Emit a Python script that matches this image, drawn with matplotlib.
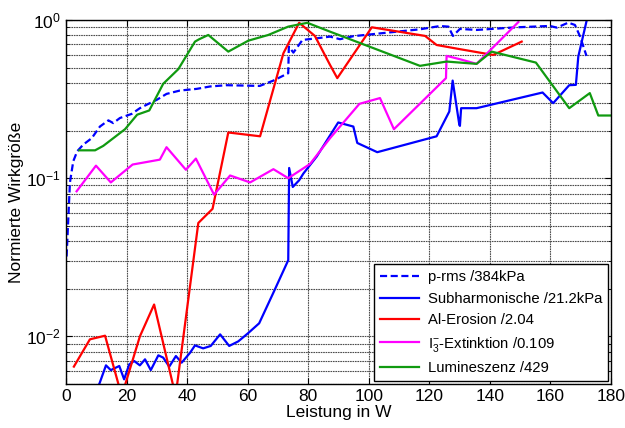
import matplotlib
matplotlib.use("Agg")
import matplotlib.pyplot as plt
from matplotlib.ticker import LogLocator, NullFormatter, FixedLocator

plt.rcParams['font.family'] = ['Liberation Sans', 'DejaVu Sans']
plt.rcParams['mathtext.fontset'] = 'custom'
plt.rcParams['mathtext.rm'] = 'Liberation Sans'
plt.rcParams['mathtext.it'] = 'Liberation Sans'

# p-rms /384kPa
prms_x = [0.2, 1.3, 2.4, 3.7, 5.7, 8.5, 11.2, 14.0, 15.6, 17.8, 21.7, 24.4, 26.6, 30.0, 33.2, 37.6,
          43.2, 47.6, 53.0, 64.0, 68.5, 73.4, 73.6, 75.1, 78.1, 82.8, 87.2, 90.5, 94.9, 105.9, 116.9,
          123.5, 126.3, 127.8, 130.1, 135.6, 148.8, 159.8, 162.1, 165.9, 168.1, 169.8, 171.9]
prms_y = [0.032, 0.094, 0.128, 0.148, 0.163, 0.179, 0.212, 0.232, 0.223, 0.240, 0.255, 0.277, 0.291,
          0.313, 0.341, 0.358, 0.367, 0.380, 0.387, 0.383, 0.414, 0.461, 0.679, 0.622, 0.748, 0.766,
          0.785, 0.756, 0.790, 0.831, 0.873, 0.916, 0.908, 0.793, 0.878, 0.865, 0.899, 0.917, 0.895,
          0.962, 0.930, 0.785, 0.593]

# Subharmonische /21.2kPa
sub_x = [9.0, 11.0, 13.2, 14.8, 17.6, 19.2, 20.9, 22.5, 24.4, 26.1, 28.0, 30.5, 32.1, 34.1, 36.3,
         38.2, 41.0, 42.6, 45.3, 47.8, 50.9, 53.9, 56.9, 60.2, 63.8, 68.5, 73.4, 73.7, 74.9, 77.0,
         78.4, 82.8, 89.9, 94.9, 96.2, 102.8, 122.4, 126.6, 127.7, 129.9, 130.1, 130.5, 135.6,
         157.4, 160.9, 166.2, 168.4, 169.2, 171.9]
sub_y = [0.0045, 0.005, 0.00656, 0.00612, 0.0065, 0.00535, 0.00666, 0.00699, 0.00656, 0.00716,
         0.00612, 0.00759, 0.00734, 0.00644, 0.00751, 0.00682, 0.00789, 0.00877, 0.0084, 0.0087,
         0.0103, 0.0087, 0.0093, 0.0105, 0.0121, 0.0189, 0.0303, 0.116, 0.088, 0.097, 0.107, 0.137,
         0.225, 0.212, 0.167, 0.146, 0.184, 0.264, 0.414, 0.218, 0.214, 0.277, 0.277, 0.348, 0.298,
         0.387, 0.389, 0.587, 0.98]

# Al-Erosion /2.04
al_x = [2.6, 7.9, 12.9, 18.4, 24.4, 29.1, 36.2, 43.7, 48.4, 53.6, 64.1, 71.8, 77.0, 82.2, 87.2,
        89.6, 101.0, 118.6, 122.4, 130.1, 141.1, 150.5]
al_y = [0.00644, 0.00958, 0.0101, 0.0042, 0.0100, 0.0159, 0.0042, 0.0521, 0.064, 0.1945, 0.184,
        0.616, 0.96, 0.793, 0.52, 0.429, 0.899, 0.793, 0.695, 0.654, 0.601, 0.730]

# I3- Extinktion /0.109
i3_x = [3.5, 9.9, 14.8, 22.0, 31.0, 33.2, 39.6, 42.9, 48.9, 54.2, 60.8, 68.5, 73.4, 80.6, 87.2,
        96.9, 103.7, 108.3, 125.5, 125.7, 130.1, 135.6, 149.4]
i3_y = [0.0826, 0.120, 0.094, 0.122, 0.131, 0.157, 0.113, 0.133, 0.0787, 0.104, 0.094, 0.114,
        0.100, 0.123, 0.179, 0.295, 0.321, 0.204, 0.429, 0.593, 0.565, 0.528, 0.97]

# Lumineszenz /429
lum_x = [4.4, 9.6, 12.3, 19.5, 23.5, 27.5, 32.1, 37.1, 42.6, 44.0, 47.0, 53.6, 60.2, 66.8, 73.4,
         79.7, 87.2, 116.9, 125.7, 135.6, 140.6, 155.2, 166.2, 173.0, 175.8, 180.0]
lum_y = [0.15, 0.15, 0.160, 0.204, 0.252, 0.268, 0.395, 0.489, 0.730, 0.756, 0.804, 0.631, 0.740,
         0.804, 0.908, 0.96, 0.844, 0.513, 0.546, 0.528, 0.631, 0.538, 0.277, 0.345, 0.249, 0.249]

labels = ['p-rms /384kPa', 'Subharmonische /21.2kPa', 'Al-Erosion /2.04',
          r'I$_3^{\mathregular{-}}$-Extinktion /0.109', 'Lumineszenz /429']

fig = plt.figure(figsize=(6.25, 4.28), dpi=100)
ax = fig.add_axes([0.1056, 0.1028, 0.872, 0.8505])

lw = 1.6
ax.plot(prms_x, prms_y, color='#0000ff', lw=lw, ls=(0, (3.2, 1.6)), label=labels[0])
ax.plot(sub_x, sub_y, color='#0000ff', lw=lw, label=labels[1])
ax.plot(al_x, al_y, color='#ff0000', lw=lw, label=labels[2])
ax.plot(i3_x, i3_y, color='#ff00ff', lw=lw, label=labels[3])
ax.plot(lum_x, lum_y, color='#109a10', lw=lw, label=labels[4])

ax.set_yscale('log')
ax.set_xlim(0, 180)
ax.set_ylim(0.005, 1)
ax.xaxis.set_major_locator(FixedLocator(list(range(0, 181, 20))))
ax.yaxis.set_major_locator(LogLocator(base=10, numticks=10))
ax.yaxis.set_minor_locator(LogLocator(base=10, subs=range(2, 10), numticks=10))
ax.yaxis.set_minor_formatter(NullFormatter())

gstyle = dict(color='0.3', ls=(0, (1.5, 0.7)), lw=0.8)
ax.grid(True, which='major', **gstyle)
ax.grid(True, which='minor', axis='y', **gstyle)
ax.tick_params(which='both', direction='in', top=True, right=True, labelsize=12.5)
ax.tick_params(which='major', length=4)
ax.tick_params(which='minor', length=2.5)
for s in ax.spines.values():
    s.set_linewidth(1.0)

ax.set_xlabel('Leistung in W', fontsize=12.5, labelpad=1)
ax.set_ylabel('Normierte Wirkgröße', fontsize=12.5, labelpad=2)

leg = ax.legend(loc='lower right', fontsize=10.7, frameon=True, fancybox=False,
                edgecolor='black', framealpha=1, handlelength=2.6, borderaxespad=0.2,
                labelspacing=0.5, handletextpad=0.6, borderpad=0.4)
leg.get_frame().set_linewidth(1.0)

fig.savefig('out.png', dpi=100)
